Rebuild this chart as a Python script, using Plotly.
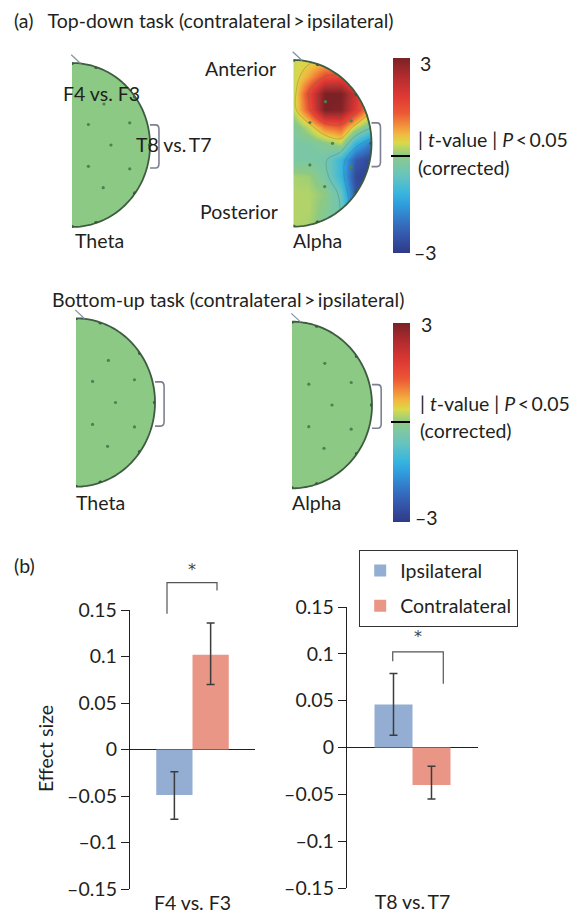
import numpy as np
import plotly.graph_objects as go

W, H = 577, 915
FONT = "Lato"
INK = "#231f20"

# ---------------- data ----------------
# alpha-band t-value map (top-down task), read on a coarse grid over the half head
grid_nx = [0.0, 0.2, 0.4, 0.6, 0.8, 1.0]
grid_ny = [1.0, 0.8, 0.6, 0.4, 0.2, 0.0, -0.2, -0.4, -0.6, -0.8, -1.0]
alpha_topdown_t = [
    [0.3, 0.4, 0.5, 0.5, 0.4, 0.3],
    [0.3, 0.8, 1.5, 1.6, 1.0, 0.4],
    [0.3, 1.6, 3.0, 3.0, 2.0, 0.8],
    [0.3, 1.4, 3.0, 2.9, 1.8, 0.6],
    [-0.2, 0.3, 1.1, 1.3, 0.3, -0.4],
    [-0.3, -0.3, -0.1, 0.2, -1.2, -2.0],
    [-0.3, -0.3, -0.4, -1.1, -2.4, -2.8],
    [0.15, 0.1, -0.3, -1.1, -2.7, -2.9],
    [0.2, 0.2, 0.0, -0.6, -2.5, -2.8],
    [0.2, 0.2, -0.1, -0.5, -2.0, -2.4],
    [0.2, 0.15, -0.2, -0.4, -1.3, -1.7],
]
# non-significant maps: t-value 0 everywhere
flat_nx = [0.0, 0.25, 0.5, 0.75, 1.0]
flat_ny = [-1.0, -0.75, -0.5, -0.25, 0.0, 0.25, 0.5, 0.75, 1.0]
theta_topdown_t = [[0.0, 0.0, 0.0, 0.0, 0.0]] * 9
theta_bottomup_t = [[0.0, 0.0, 0.0, 0.0, 0.0]] * 9
alpha_bottomup_t = [[0.0, 0.0, 0.0, 0.0, 0.0]] * 9

# electrode positions (normalised half-head coordinates)
electrode_nx = [0.41, 0.21, 0.74, 0.50, 0.21, 0.74, 0.40]
electrode_ny = [0.50, 0.25, 0.27, 0.00, -0.26, -0.29, -0.52]
rim_electrode_deg = [90, 72, 36, 0, -36, -72, -90]

# bar chart (b)
bar_categories = ["F4 vs. F3", "T8 vs.\u2009T7"]
ipsi_values = [-0.049, 0.046]
ipsi_err_up = [0.025, 0.033]
ipsi_err_down = [0.026, 0.033]
contra_values = [0.102, -0.040]
contra_err_up = [0.034, 0.020]
contra_err_down = [0.032, 0.015]
ytick_vals = [-0.15, -0.1, -0.05, 0, 0.05, 0.1, 0.15]
ytick_text = ["\u20130.15", "\u20130.1", "\u20130.05", "0", "0.05", "0.1", "0.15"]
series_names = ["Ipsilateral", "Contralateral"]

# ---------------- styling ----------------
CS = [
    [0.0, '#2f3a86'], [0.08, '#3453a8'], [0.17, '#3477c6'], [0.25, '#2f9edd'],
    [0.31, '#38b6de'], [0.39, '#64c3c0'], [0.46, '#7fc8a0'], [0.5, '#8cc985'],
    [0.535, '#b4d468'], [0.565, '#dcd84a'], [0.61, '#f1b83f'], [0.66, '#f18a3a'],
    [0.72, '#ec5634'], [0.8, '#e03a34'], [0.9, '#b52c2f'], [1.0, '#7a2226'],
]
BLUE = '#93aed2'
RED = '#e99687'
FS = 19.5

heads = [
    dict(left=72.0, rx=78.0, cy=145.0, ry=82.0),     # top theta
    dict(left=293.5, rx=78.0, cy=143.3, ry=83.3),    # top alpha
    dict(left=76.0, rx=79.0, cy=402.5, ry=84.2),     # bottom theta
    dict(left=292.0, rx=80.0, cy=405.0, ry=83.3),    # bottom alpha
]
XR = (-0.2, 1.25)
YR = (-1.2, 1.2)


def head_domain(h):
    x0 = (h['left'] + XR[0] * h['rx']) / W
    x1 = (h['left'] + XR[1] * h['rx']) / W
    pyb = h['cy'] - YR[0] * h['ry']
    pyt = h['cy'] - YR[1] * h['ry']
    return [x0, x1], [1 - pyb / H, 1 - pyt / H]


fig = go.Figure()
layout = dict(
    width=W, height=H, margin=dict(l=0, r=0, t=0, b=0, autoexpand=False),
    paper_bgcolor='white', plot_bgcolor='white',
    showlegend=True, barmode='group', bargap=0.42, bargroupgap=0,
    font=dict(family=FONT, color=INK, size=FS),
)

maps = [
    (flat_nx, flat_ny, theta_topdown_t),
    (grid_nx, grid_ny[::-1], alpha_topdown_t[::-1]),
    (flat_nx, flat_ny, theta_bottomup_t),
    (flat_nx, flat_ny, alpha_bottomup_t),
]
cbar_specs = {1: (58.3, 253.3), 3: (322.7, 521.7)}

th = np.linspace(-np.pi / 2, np.pi / 2, 90)
arc_x, arc_y = np.cos(th), np.sin(th)
arc_pts = " ".join(f"L{x:.4f},{y:.4f}" for x, y in zip(arc_x[1:], arc_y[1:]))
arc_path = f"M{arc_x[0]:.4f},{arc_y[0]:.4f} " + arc_pts
mask_path = "M-1,-2 L2,-2 L2,2 L-1,2 Z " + arc_path + " Z"
ear_path = "M1.0,0.245 L1.07,0.245 Q1.115,0.245 1.115,0.19 L1.115,-0.225 Q1.115,-0.28 1.07,-0.28 L1.0,-0.28"

shapes = []
annotations = []

for i, (h, (mx, my, mz)) in enumerate(zip(heads, maps)):
    n = '' if i == 0 else str(i + 1)
    xd_, yd_ = head_domain(h)
    layout['xaxis' + n] = dict(domain=xd_, range=list(XR), visible=False, anchor='y' + n, fixedrange=True)
    layout['yaxis' + n] = dict(domain=yd_, range=list(YR), visible=False, anchor='x' + n, fixedrange=True)
    hm = dict(x=mx, y=my, z=mz, zsmooth='best', colorscale=CS, zmin=-3, zmax=3,
              xaxis='x' + n, yaxis='y' + n, hoverinfo='skip', showscale=False, showlegend=False)
    if i in cbar_specs:
        t, b = cbar_specs[i]
        hm['showscale'] = True
        hm['colorbar'] = dict(x=392.7 / W, xanchor='left', xref='paper', y=1 - (t + b) / 2 / H,
                              yanchor='middle', len=b - t, lenmode='pixels', thickness=17,
                              outlinewidth=0, ticks='inside', ticklen=19, tickwidth=2.2,
                              tickcolor='black', tickvals=[0], showticklabels=False,
                              xpad=0, ypad=0)
    fig.add_trace(go.Heatmap(**hm))
    if i == 1:
        fig.add_trace(go.Contour(x=mx, y=my, z=mz, xaxis='x2', yaxis='y2', showscale=False,
                                 contours=dict(coloring='none', start=-2.5, end=2.5, size=1.0),
                                 line=dict(color='rgba(70,100,80,0.35)', width=0.8),
                                 hoverinfo='skip', showlegend=False))
    fig.add_trace(go.Scatter(x=electrode_nx, y=electrode_ny, mode='markers',
                             marker=dict(size=3.2, color='#4f8052'), xaxis='x' + n, yaxis='y' + n,
                             hoverinfo='skip', showlegend=False))
    rad = np.deg2rad(rim_electrode_deg)
    fig.add_trace(go.Scatter(x=np.cos(rad), y=np.sin(rad), mode='markers',
                             marker=dict(size=4, color='#34523a'), xaxis='x' + n, yaxis='y' + n,
                             hoverinfo='skip', showlegend=False))
    xr, yr = 'x' + n, 'y' + n
    shapes.append(dict(type='path', xref=xr, yref=yr, path=mask_path, fillcolor='white',
                       line=dict(width=0), fillrule='evenodd'))
    shapes.append(dict(type='path', xref=xr, yref=yr, path=arc_path,
                       line=dict(color='#3e5c42', width=1.8)))
    shapes.append(dict(type='path', xref=xr, yref=yr, path=ear_path,
                       line=dict(color='#7d8090', width=1.6)))
    shapes.append(dict(type='line', xref=xr, yref=yr, x0=0.11, y0=0.995, x1=-0.01, y1=1.1,
                       line=dict(color='#8494a6', width=1.3)))

# ---------------- bar charts ----------------
bar_axes = [
    dict(x0=130, x1=255, ytop=610, ybot=889),
    dict(x0=347, x1=478, ytop=607, ybot=888),
]
for j, ba in enumerate(bar_axes):
    n = str(j + 5)
    layout['xaxis' + n] = dict(domain=[ba['x0'] / W, ba['x1'] / W], anchor='y' + n, type='category',
                               range=[-0.5, 0.5], showline=False, showgrid=False, zeroline=False,
                               ticks='',
                               tickfont=dict(size=FS, family=FONT, color=INK), fixedrange=True)
    layout['yaxis' + n] = dict(domain=[1 - ba['ybot'] / H, 1 - ba['ytop'] / H], anchor='x' + n,
                               range=[-0.15, 0.15], showline=True, linecolor=INK, linewidth=1.3,
                               ticks='outside', ticklen=8, tickwidth=1.3, tickcolor=INK,
                               tickvals=ytick_vals, ticktext=ytick_text, showgrid=False,
                               zeroline=True, zerolinecolor=INK, zerolinewidth=1.3,
                               tickfont=dict(size=FS, family=FONT, color=INK), fixedrange=True)
    for name, vals, up, dn, col in [
        (series_names[0], ipsi_values, ipsi_err_up, ipsi_err_down, BLUE),
        (series_names[1], contra_values, contra_err_up, contra_err_down, RED),
    ]:
        fig.add_trace(go.Bar(
            x=[bar_categories[j]], y=[vals[j]], name=name, marker=dict(color=col, line=dict(width=0)),
            error_y=dict(type='data', array=[up[j]], arrayminus=[dn[j]], color='#3c3c3c',
                         thickness=1.5, width=4),
            xaxis='x' + n, yaxis='y' + n, legendgroup=name, showlegend=(j == 1), hoverinfo='skip'))

# significance brackets: [x_left, x_right, y_left_end, y_top, y_right_end] in data units
brackets = [
    [-0.204, 0.196, 0.146, 0.1795, 0.171],
    [-0.151, 0.235, 0.092, 0.102, 0.068],
]
star_y = [0.1935, 0.119]


def xd(v):
    return v + 0.5


def yd(v):
    return (v + 0.15) / 0.3


for j, (bx0, bx1, yl, yt, yrr) in enumerate(brackets):
    n = str(j + 5)
    path = f"M{xd(bx0)},{yd(yl)} L{xd(bx0)},{yd(yt)} L{xd(bx1)},{yd(yt)} L{xd(bx1)},{yd(yrr)}"
    shapes.append(dict(type='path', xref=f'x{n} domain', yref=f'y{n} domain', path=path,
                       line=dict(color='#555555', width=1.2)))
    annotations.append(dict(text='*', xref=f'x{n} domain', yref=f'y{n} domain',
                            x=xd((bx0 + bx1) / 2), y=yd(star_y[j]), showarrow=False,
                            font=dict(size=16, color='#444444', family='DejaVu Sans'),
                            xanchor='center', yanchor='middle'))

layout['legend'] = dict(x=359 / W, y=1 - 550 / H, xanchor='left', yanchor='top',
                        bgcolor='white', bordercolor='#333333', borderwidth=1.2,
                        font=dict(family=FONT, size=FS, color=INK), tracegroupgap=7,
                        traceorder='grouped')


def ann(text, xpx, ypx, xanchor='left', size=FS, **kw):
    d = dict(text=text, x=xpx / W, y=1 - ypx / H, xref='paper', yref='paper', showarrow=False,
             xanchor=xanchor, yanchor='middle', font=dict(family=FONT, size=size, color=INK))
    d.update(kw)
    annotations.append(d)


TV = "| <i>t</i>-value | <i>P</i>\u2009<\u20090.05"
ann("(a)\u2002 Top-down task (contralateral\u2009>\u2009ipsilateral)", 12, 20)
ann("Anterior", 278, 69, 'right')
ann("F4 vs. F3", 61, 94)
ann("T8 vs.\u2009T7", 134, 144)
ann("Posterior", 280, 212, 'right')
ann("Theta", 73, 240)
ann("Alpha", 291, 240)
ann("3", 418, 63)
ann("\u20133", 412, 252)
ann(TV, 416, 140)
ann("(corrected)", 416, 168)
ann("Bottom-up task (contralateral\u2009>\u2009ipsilateral)", 50, 300)
ann("Theta", 74, 502)
ann("Alpha", 290, 502)
ann("3", 419, 325)
ann("\u20133", 413, 517)
ann(TV, 418, 403)
ann("(corrected)", 418, 430)
ann("(b)", 12, 565)
ann("Effect size", 45, 749, 'center', textangle=-90)

layout['shapes'] = shapes
layout['annotations'] = annotations
fig.update_layout(**layout)
fig.write_html("out.html", config={'displayModeBar': False},
               post_script="document.body.style.margin='0px';document.body.style.padding='0px';")
